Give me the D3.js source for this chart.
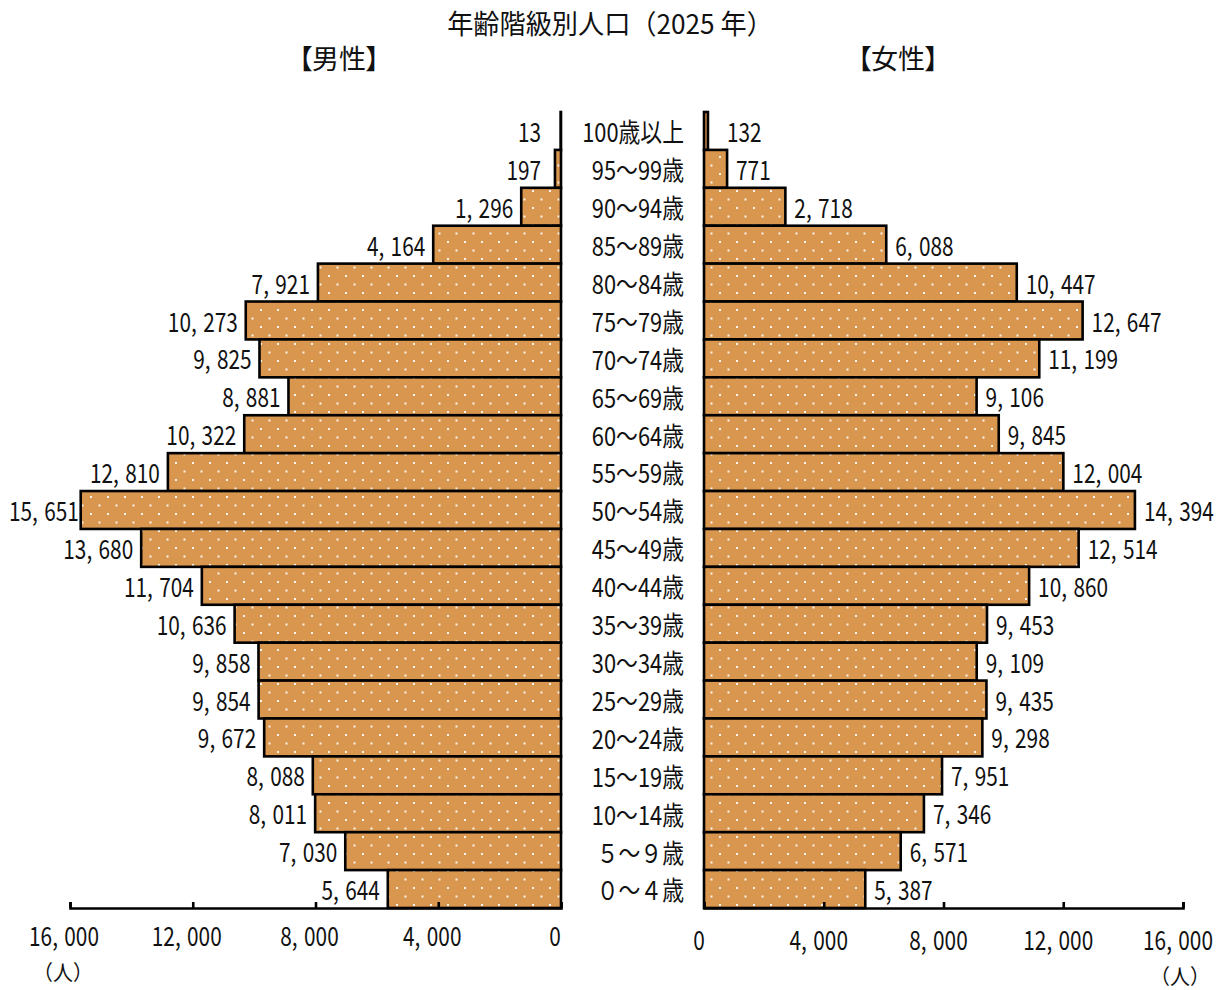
<!DOCTYPE html>
<html><head><meta charset="utf-8">
<script src="https://cdn.jsdelivr.net/npm/d3@7"></script>
<style>
html,body{margin:0;padding:0;background:#fff;}
svg{display:block;}
.palt{font-feature-settings:"palt" 1;}
</style></head>
<body>
<svg id="chart" width="1224" height="990"></svg>
<script>
const ages = ["100歳以上","95～99歳","90～94歳","85～89歳","80～84歳","75～79歳","70～74歳","65～69歳","60～64歳","55～59歳","50～54歳","45～49歳","40～44歳","35～39歳","30～34歳","25～29歳","20～24歳","15～19歳","10～14歳","５～９歳","０～４歳"];
const male = [13,197,1296,4164,7921,10273,9825,8881,10322,12810,15651,13680,11704,10636,9858,9854,9672,8088,8011,7030,5644];
const female = [132,771,2718,6088,10447,12647,11199,9106,9845,12004,14394,12514,10860,9453,9109,9435,9298,7951,7346,6571,5387];
const tickValues = [0,4000,8000,12000,16000];
const title = "年齢階級別人口（2025 年）";
const maleLabel = "【男性】";
const femaleLabel = "【女性】";
const unitLabel = "（人）";

const FONT = "'Noto Sans CJK JP','Noto Sans',sans-serif";
const FILL = "#D9964F";
const NUM_SIZE = 26, NUM_SX = 0.8, COMMA_DX = 8;
const svg = d3.select("#chart");

const defs = svg.append("defs");
const pat = defs.append("pattern").attr("id","dots").attr("patternUnits","userSpaceOnUse")
  .attr("width",17).attr("height",17).attr("x",5).attr("y",3);
pat.append("rect").attr("width",17).attr("height",17).attr("fill",FILL);
pat.append("rect").attr("x",0).attr("y",0).attr("width",2).attr("height",2).attr("fill","#fff").attr("opacity",0.9);
pat.append("rect").attr("x",8.5).attr("y",8.5).attr("width",2).attr("height",2).attr("fill","#fff").attr("opacity",0.9);

const xL = d3.scaleLinear().domain([0,16000]).range([561,70]);
const xR = d3.scaleLinear().domain([0,16000]).range([704,1183]);
const y = d3.scaleBand().domain(ages).range([112,908]).padding(0);

function txt(g, x, yy, s, size, anchor, sx){
  return g.append("text")
    .attr("transform",`translate(${x},${yy}) scale(${sx},1)`)
    .attr("text-anchor",anchor)
    .attr("dominant-baseline","central")
    .attr("font-family",FONT).attr("font-size",size).attr("fill","#111")
    .text(s);
}
const fmt = d3.format(",");
function numText(g, x, yy, v, anchor){
  const t = g.append("text")
    .attr("transform",`translate(${x},${yy}) scale(${NUM_SX},1)`)
    .attr("text-anchor",anchor)
    .attr("dominant-baseline","central")
    .attr("font-family",FONT).attr("font-size",NUM_SIZE).attr("fill","#111");
  const parts = fmt(v).split(",");
  parts.forEach((p,i)=>{
    if(i>0){ t.append("tspan").text(","); t.append("tspan").attr("dx",COMMA_DX).text(p); }
    else t.append("tspan").text(p);
  });
  return t;
}

// bars
const gb = svg.append("g");
gb.selectAll("rect.m").data(ages).join("rect").attr("class","m")
  .attr("x",(d,i)=>xL(male[i])).attr("y",d=>y(d))
  .attr("width",(d,i)=>xL(0)-xL(male[i])).attr("height",y.bandwidth())
  .attr("fill","url(#dots)").attr("stroke","#000").attr("stroke-width",2.6);
gb.selectAll("rect.f").data(ages).join("rect").attr("class","f")
  .attr("x",xR(0)).attr("y",d=>y(d))
  .attr("width",(d,i)=>xR(female[i])-xR(0)).attr("height",y.bandwidth())
  .attr("fill","url(#dots)").attr("stroke","#000").attr("stroke-width",2.6);

// value labels
const gl = svg.append("g");
ages.forEach((a,i)=>{
  const cy = y(a)+y.bandwidth()/2;
  const t = numText(gl, Math.min(xL(male[i])-8, xL(0)-20), cy, male[i], "end");
  const bb = t.node().getBoundingClientRect();
  if (bb.left < 9) {
    const nx = Math.min(xL(male[i])-8, xL(0)-20) + (9 - bb.left);
    t.attr("transform",`translate(${nx},${cy}) scale(${NUM_SX},1)`);
  }
  numText(gl, Math.max(xR(female[i])+9, xR(0)+23), cy, female[i], "start");
  txt(gl, 684, cy, a, 26, "end", 0.84);
});

// axes
function styleAxis(g){
  g.select(".domain").attr("stroke","#000").attr("stroke-width",2.6);
  g.selectAll(".tick line").attr("stroke","#000").attr("stroke-width",2.6);
}
const axL = svg.append("g").attr("transform","translate(0,908)")
  .call(d3.axisBottom(xL).tickValues(tickValues).tickSize(-6).tickFormat(""));
styleAxis(axL);
const axR = svg.append("g").attr("transform","translate(0,908)")
  .call(d3.axisBottom(xR).tickValues(tickValues).tickSize(-6).tickFormat(""));
styleAxis(axR);
const gt = svg.append("g");
tickValues.forEach(v=>{
  numText(gt, xL(v)-6, 935, v, "middle");
  numText(gt, xR(v)-5, 939, v, "middle");
});

// titles
txt(svg, 610, 22, title, 27, "middle", 0.97);
txt(svg, 339, 57, maleLabel, 27, "middle", 1).attr("class","palt");
txt(svg, 898, 57, femaleLabel, 27, "middle", 1).attr("class","palt");
txt(svg, 63, 971, unitLabel, 21, "middle", 0.95);
txt(svg, 1180, 975, unitLabel, 21, "middle", 0.95);
</script>
</body></html>
